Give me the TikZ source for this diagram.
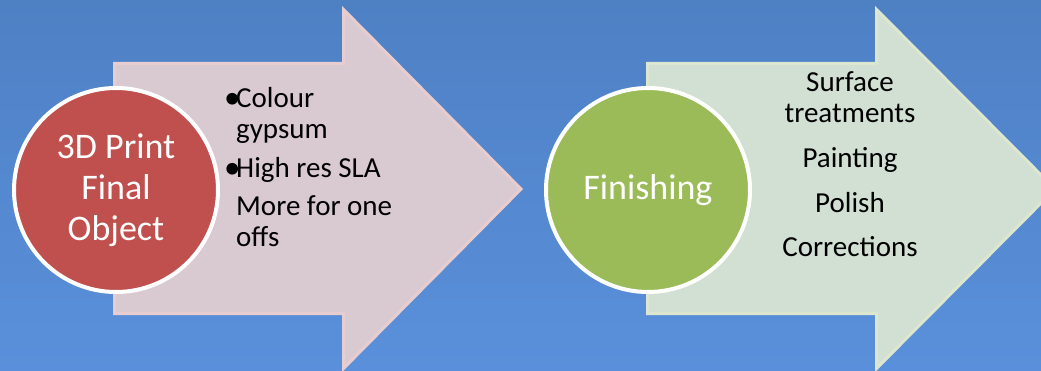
\documentclass[tikz,border=0pt]{standalone}
\usepackage{xcolor}
\usepackage{fontspec}
\setmainfont{Carlito}

\definecolor{bgtop}{HTML}{4E80C4}
\definecolor{bgbottom}{HTML}{5A90DB}
\definecolor{pinkfill}{HTML}{D9CAD2}
\definecolor{pinkedge}{HTML}{E7CDCF}
\definecolor{sagefill}{HTML}{D2DFD3}
\definecolor{sageedge}{HTML}{DDE7D0}
\definecolor{brick}{HTML}{C0504D}
\definecolor{olive}{HTML}{9BBB59}

\tikzset{
    stage/.style={circle, draw=white, line width=4pt, minimum size=204pt,
        inner sep=0pt, align=center, text=white,
        font=\fontsize{36}{41}\selectfont},
    listtext/.style={inner sep=0pt, font=\fontsize{29}{31}\selectfont},
    bulletmark/.style={inner sep=0pt, font=\fontsize{33}{31}\selectfont},
}

\begin{document}
\begin{tikzpicture}[x=1pt,y=-1pt]

        \useasboundingbox (0,0) rectangle (1041,371);
        \clip (0,0) rectangle (1041,371);
        \shade[top color=bgtop, bottom color=bgbottom] (0,0) rectangle (1041,371);

        % the two block arrows
        \draw[line width=3pt, draw=pinkedge, fill=pinkfill, line join=miter]
            (114.5,63.5) -- (343.5,63.5) -- (343.5,9.5) -- (521,189)
            -- (343.5,368.5) -- (343.5,313.5) -- (114.5,313.5) -- cycle;
        \draw[line width=3pt, draw=sageedge, fill=sagefill, line join=miter]
            (647.5,63.5) -- (876.5,63.5) -- (876.5,9.5) -- (1055,189)
            -- (876.5,368.5) -- (876.5,313.5) -- (647.5,313.5) -- cycle;

        % stages
        \node[stage, fill=brick] (print) at (116,190) {3D Print\\Final\\Object};
        \node[stage, fill=olive] (finish) at (648,190) {Finishing};

        % notes on the first arrow (base of a two-line node = its last line)
        \node[bulletmark, anchor=base west] (dota) at (224,109) {•};
        \node[listtext, anchor=base west, align=left] (gypsum) at (236,139) {Colour\\gypsum};
        \node[bulletmark, anchor=base west] (dotb) at (224,179) {•};
        \node[listtext, anchor=base west] (sla) at (236,178) {High res SLA};
        \node[listtext, anchor=base west, align=left] (oneoffs) at (236,247) {More for one\\offs};

        % notes on the second arrow
        \node[listtext, anchor=base, align=center] (surface) at (850,123) {Surface\\treatments};
        \node[listtext, anchor=base] (painting) at (850,168) {Painting};
        \node[listtext, anchor=base] (polish) at (850,213) {Polish};
        \node[listtext, anchor=base] (corrections) at (850,257) {Corrections};

\end{tikzpicture}
\end{document}
